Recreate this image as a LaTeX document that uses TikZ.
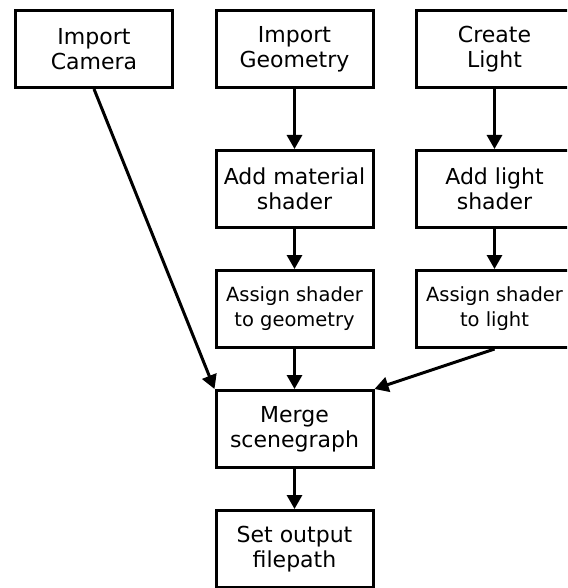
\documentclass[tikz,border=0pt]{standalone}
\usepackage{fontspec}
\setmainfont{DejaVu Sans}
\usetikzlibrary{arrows.meta, positioning}

\begin{document}
\begin{tikzpicture}[x=1pt, y=-1pt, >={Triangle[length=14pt, width=15pt]}, line width=3pt, font=\fontsize{22}{25}\selectfont]
\tikzset{
    step box/.style={draw, rectangle, minimum width=157pt, minimum height=77pt, align=center, inner sep=0pt},
    small box/.style={step box, font=\fontsize{19.5}{25}\selectfont}
}
\useasboundingbox (0,0) rectangle (567,588);
\clip (0,0) rectangle (567,588);
\node[step box] (Camera) at (94, 49) {Import\\Camera};
\node[step box] (Geometry) at (294.5, 49) {Import\\Geometry};
\node[step box] (Light) at (494.5, 49) {Create\\Light};
\node[step box] (MatShader) at (294.5, 189) {Add material\\shader};
\node[step box] (LightShader) at (494.5, 189) {Add light\\shader};
\node[small box] (AssignGeo) at (294.5, 309) {Assign shader\\to geometry};
\node[small box] (AssignLight) at (494.5, 309) {Assign shader\\to light};
\node[step box] (Merge) at (294.5, 429) {Merge\\scenegraph};
\node[step box] (Output) at (294.5, 549) {Set output\\filepath};
\draw[->] (Geometry) -- (MatShader); \draw[->] (MatShader) -- (AssignGeo);
\draw[->] (Light) -- (LightShader); \draw[->] (LightShader) -- (AssignLight);
\draw[->] (Camera.south) -- (Merge.north west);
\draw[->] (AssignGeo) -- (Merge);
\draw[->] (AssignLight.south) -- (Merge.north east);
\draw[->] (Merge) -- (Output);
\end{tikzpicture}
\end{document}
